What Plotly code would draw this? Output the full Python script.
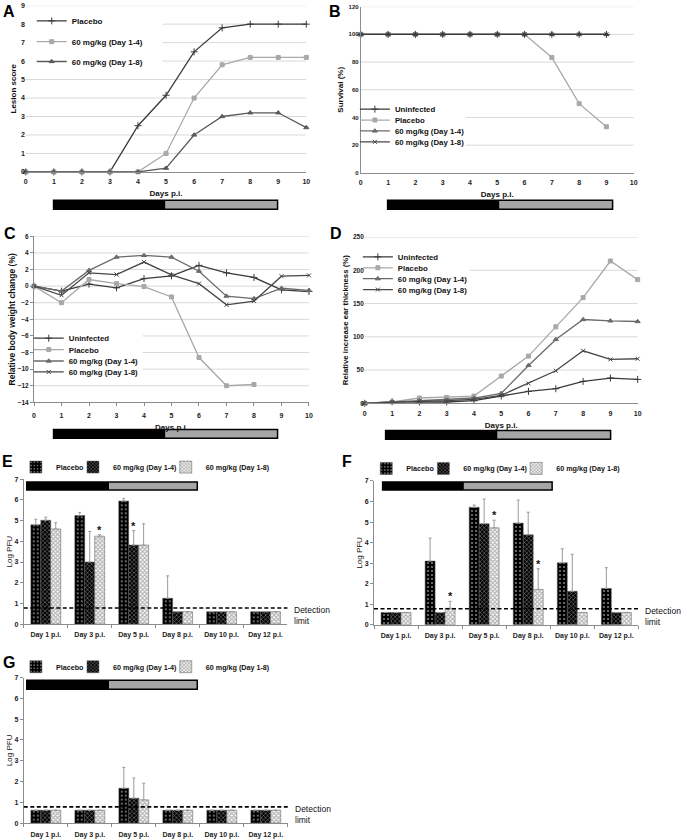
import plotly.graph_objects as go

W, H = 684, 840
FONT = "Liberation Sans"

# ---------------- data ----------------
days = [0, 1, 2, 3, 4, 5, 6, 7, 8, 9, 10]
days_survival = [0, 1, 2, 3, 4, 5, 6, 7, 8, 9]
days_placebo_weight = [0, 1, 2, 3, 4, 5, 6, 7, 8]

# A: lesion score
lesion_placebo = [0, 0, 0, 0, 2.5, 4.15, 6.5, 7.8, 8.0, 8.0, 8.0]
lesion_d14 = [0, 0, 0, 0, 0, 1.0, 4.0, 5.8, 6.2, 6.2, 6.2]
lesion_d18 = [0, 0, 0, 0, 0, 0.2, 2.0, 3.0, 3.2, 3.2, 2.4]

# B: survival (%)
surv_uninf = [100, 100, 100, 100, 100, 100, 100, 100, 100, 100]
surv_placebo = [100, 100, 100, 100, 100, 100, 100, 83.3, 50, 33.3]
surv_d14 = [100, 100, 100, 100, 100, 100, 100, 100, 100, 100]
surv_d18 = [100, 100, 100, 100, 100, 100, 100, 100, 100, 100]

# C: relative body weight change (%)
bw_uninf = [0, -0.6, 0.25, -0.2, 0.9, 1.25, 2.5, 1.6, 1.05, -0.45, -0.65]
bw_placebo = [0, -2.0, 0.8, 0.3, -0.05, -1.3, -8.6, -12.0, -11.85]
bw_d14 = [0, -0.6, 1.9, 3.5, 3.7, 3.5, 1.8, -1.2, -1.5, -0.25, -0.5]
bw_d18 = [0, -1.1, 1.6, 1.4, 2.9, 1.35, 0.3, -2.25, -1.8, 1.2, 1.3]

# D: relative increase ear thickness (%)
ear_uninf = [0, 2.5, 2, 2, 4, 11, 18, 22, 33, 38, 36]
ear_placebo = [0, 2, 8, 9, 11, 41, 71, 115, 159, 214, 186]
ear_d14 = [0, 2, 4, 5, 8, 15, 57, 96, 126, 124, 123]
ear_d18 = [0, 2, 3, 4, 6, 12, 30, 49, 79, 66, 67]

# E-G: Log PFU (bar value and top of error bar)
categories = ["Day 1 p.i.", "Day 3 p.i.", "Day 5 p.i.", "Day 8 p.i.", "Day 10 p.i.", "Day 12 p.i."]

e_placebo = [4.8, 5.25, 5.95, 1.25, 0.6, 0.6]
e_placebo_top = [5.07, 5.4, 6.08, 2.33, None, None]
e_d14 = [5.02, 3.0, 3.82, 0.6, 0.6, 0.6]
e_d14_top = [5.17, 4.48, 4.52, None, None, None]
e_d18 = [4.6, 4.25, 3.82, 0.6, 0.6, 0.6]
e_d18_top = [4.9, 4.32, 4.85, None, None, None]
e_stars = [(1, 2), (2, 1)]

f_placebo = [0.6, 3.1, 5.72, 4.95, 3.02, 1.77]
f_placebo_top = [None, 4.22, 5.83, 6.07, 3.7, 2.78]
f_d14 = [0.6, 0.6, 4.92, 4.38, 1.63, 0.6]
f_d14_top = [None, None, 6.12, 5.48, 3.43, None]
f_d18 = [0.6, 0.8, 4.72, 1.72, 0.6, 0.6]
f_d18_top = [None, 1.14, 5.09, 2.73, None, None]
f_stars = [(1, 2), (2, 2), (3, 2)]

g_placebo = [0.62, 0.62, 1.68, 0.62, 0.62, 0.62]
g_placebo_top = [None, None, 2.68, None, None, None]
g_d14 = [0.62, 0.62, 1.2, 0.62, 0.62, 0.62]
g_d14_top = [None, None, 2.17, None, None, None]
g_d18 = [0.62, 0.62, 1.12, 0.62, 0.62, 0.62]
g_d18_top = [None, None, 1.92, None, None, None]
g_stars = []

detection_limit = 0.78

# ---------------- layout geometry (pixels) ----------------
# left, right, top, bottom of each plot area
panels = {
    "A": (24, 307, 1.7, 169.3),
    "B": (362, 637.3, 2.7, 170.3),
    "C": (32.3, 309.7, 234.3, 401.7),
    "D": (366, 641.3, 235, 402.7),
    "E": (22, 288, 479.3, 625.3),
    "F": (375.3, 642, 481, 626),
    "G": (22, 288.3, 679.3, 826),
}
axis_id = {"A": "", "B": "2", "C": "3", "D": "4", "E": "5", "F": "6", "G": "7"}


def dom(p):
    l, r, t, b = panels[p]
    return [l / W, r / W], [1 - b / H, 1 - t / H]


fig = go.Figure()
legends = {}
leg_counter = [0]


def new_legend(x_px, y_px, size, weight="bold"):
    leg_counter[0] += 1
    key = "legend" if leg_counter[0] == 1 else "legend%d" % leg_counter[0]
    legends[key] = dict(
        x=x_px / W, y=1 - y_px / H, xanchor="left", yanchor="middle",
        bgcolor="rgba(0,0,0,0)", borderwidth=0, tracegroupgap=0,
        font=dict(family=FONT, size=size, color="#111111", weight=weight),
        itemclick=False, itemdoubleclick=False,
    )
    return key


DARK = "#3a3a3a"
MID = "#6a6a6a"
LIGHT = "#a8a8a8"
DARK2 = "#474747"


def line(x, y, name, color, symbol, p, leg_xy, msize=4, fsize=7.8):
    a = axis_id[p]
    leg = new_legend(leg_xy[0], leg_xy[1], fsize)
    fig.add_trace(go.Scatter(
        x=x, y=y, mode="lines+markers", name=name,
        line=dict(color=color, width=1.3),
        marker=dict(symbol=symbol, size=msize, color=color, line=dict(color=color, width=1)),
        xaxis="x" + a, yaxis="y" + a, legend=leg, showlegend=True,
        cliponaxis=False,
    ))


# A
ax = 30
line(days, lesion_placebo, "Placebo", DARK, "cross-thin", "A", (ax, 17), 5, 8)
line(days, lesion_d14, "60 mg/kg (Day 1-4)", LIGHT, "square", "A", (ax, 38), 4, 8)
line(days, lesion_d18, "60 mg/kg (Day 1-8)", "#5a5a5a", "triangle-up", "A", (ax, 58), 4.5, 8)

# B (placebo drawn first so the dark 100% line sits on top)
bx = 356
line(days_survival, surv_placebo, "Placebo", LIGHT, "square", "B", (bx, 117), 4)
line(days_survival, surv_d14, "60 mg/kg (Day 1-4)", MID, "triangle-up", "B", (bx, 128), 4.5)
line(days_survival, surv_d18, "60 mg/kg (Day 1-8)", DARK2, "x-thin", "B", (bx, 139), 4)
line(days_survival, surv_uninf, "Uninfected", DARK, "cross-thin", "B", (bx, 106), 5)

# C
cx = 27
line(days, bw_uninf, "Uninfected", DARK, "cross-thin", "C", (cx, 337), 5)
line(days_placebo_weight, bw_placebo, "Placebo", LIGHT, "square", "C", (cx, 348.5), 4)
line(days, bw_d14, "60 mg/kg (Day 1-4)", MID, "triangle-up", "C", (cx, 360), 4.5)
line(days, bw_d18, "60 mg/kg (Day 1-8)", DARK2, "x-thin", "C", (cx, 371), 4)

# D
dx = 359
line(days, ear_uninf, "Uninfected", DARK, "cross-thin", "D", (dx, 255), 5)
line(days, ear_placebo, "Placebo", LIGHT, "square", "D", (dx, 266), 4)
line(days, ear_d14, "60 mg/kg (Day 1-4)", MID, "triangle-up", "D", (dx, 277), 4.5)
line(days, ear_d18, "60 mg/kg (Day 1-8)", DARK2, "x-thin", "D", (dx, 288), 4)

# ---------------- bars ----------------
BARGAP = 0.32
bar_styles = [
    dict(name="Placebo", color="#000000",
         pattern=dict(shape=".", fgcolor="#ffffff", bgcolor="#000000", size=4, solidity=0.22)),
    dict(name="60 mg/kg (Day 1-4)", color="#000000",
         pattern=dict(shape="x", fgcolor="#ffffff", bgcolor="#000000", size=3, solidity=0.35)),
    dict(name="60 mg/kg (Day 1-8)", color="#ffffff",
         pattern=dict(shape="x", fgcolor="#6e6e6e", bgcolor="#ffffff", size=3, solidity=0.65)),
]


def bars(p, series, tops, leg_x, leg_y):
    a = axis_id[p]
    for i, (vals, top) in enumerate(zip(series, tops)):
        st = bar_styles[i]
        err = [None if t is None else t - v for v, t in zip(vals, top)]
        leg = new_legend(leg_x[i], leg_y, 7.2)
        fig.add_trace(go.Bar(
            x=categories, y=vals, name=st["name"],
            marker=dict(color=st["color"], pattern=st["pattern"],
                        line=dict(color="#555555", width=0.5)),
            error_y=dict(type="data", array=err, arrayminus=[0] * len(err), symmetric=False,
                         color="#9a9a9a", thickness=1, width=1.5),
            xaxis="x" + a, yaxis="y" + a, legend=leg, showlegend=True,
        ))


leg_x_e = [14, 71.6, 165.2]
bars("E", [e_placebo, e_d14, e_d18], [e_placebo_top, e_d14_top, e_d18_top], leg_x_e, 467)
bars("F", [f_placebo, f_d14, f_d18], [f_placebo_top, f_d14_top, f_d18_top],
     [v + 353.5 for v in leg_x_e], 468.3)
bars("G", [g_placebo, g_d14, g_d18], [g_placebo_top, g_d14_top, g_d18_top], leg_x_e, 668.3)

# ---------------- axes ----------------
GRID = "#d9d9d9"
AXL = "#8c8c8c"
layout = dict(
    width=W, height=H, margin=dict(l=0, r=0, t=0, b=0),
    paper_bgcolor="white", plot_bgcolor="rgba(0,0,0,0)",
    barmode="group", bargap=BARGAP, bargroupgap=0,
    font=dict(family=FONT, color="#111111"),
    showlegend=True,
)


def tickf(size=6.5):
    return dict(family=FONT, size=size, color="#222222", weight="bold")


def title(text, size=8, standoff=3, weight="bold"):
    return dict(text=text, font=dict(family=FONT, size=size, color="#111111", weight=weight),
                standoff=standoff)


line_panels = {
    "A": dict(yr=[0, 9], dt=1, ytitle="Lesion score", ysize=8, yline=False, ticks="", tf=7, so=3),
    "B": dict(yr=[0, 120], dt=20, ytitle="Survival (%)", ysize=8, yline=True, ticks="", tf=6, so=3),
    "C": dict(yr=[-14, 6], dt=2, ytitle="Relative body weight change (%)", ysize=8.5,
              yline=True, ticks="outside", tf=6.5, so=0),
    "D": dict(yr=[0, 250], dt=50, ytitle="Relative increase ear thickness (%)", ysize=7.8,
              yline=False, ticks="", tf=6.5, so=3),
}
shapes = []
for p, cfg in line_panels.items():
    a = axis_id[p]
    xd, yd = dom(p)
    layout["xaxis" + a] = dict(
        domain=xd, anchor="y" + a, range=[0, 10], dtick=1, showgrid=False, zeroline=False,
        showline=True, linecolor=AXL, linewidth=1, ticks=cfg["ticks"], ticklen=3, tickcolor=AXL,
        tickfont=tickf(7), ticklabelstandoff=3, title=title("Days p.i.", 8, 6), fixedrange=True,
    )
    layout["yaxis" + a] = dict(
        domain=yd, anchor="x" + a, range=cfg["yr"], dtick=cfg["dt"], showgrid=False,
        zeroline=False, showline=cfg["yline"], linecolor=AXL,
        ticks=cfg["ticks"], ticklen=3, tickcolor=AXL, tickfont=tickf(cfg["tf"]),
        title=title(cfg["ytitle"], cfg["ysize"], cfg["so"]), fixedrange=True,
    )
    # horizontal gridlines at every tick above the bottom of the range
    lo, hi = cfg["yr"]
    v = lo + cfg["dt"]
    while v <= hi + 1e-9:
        shapes.append(dict(type="line", layer="below", xref="x%s domain" % a, yref="y" + a,
                           x0=0, x1=1, y0=v, y1=v, line=dict(color=GRID, width=1)))
        v += cfg["dt"]

for p in ["E", "F", "G"]:
    a = axis_id[p]
    xd, yd = dom(p)
    layout["xaxis" + a] = dict(
        domain=xd, anchor="y" + a, type="category", showgrid=False, zeroline=False,
        showline=True, linecolor=AXL, linewidth=1, ticks="outside", tickson="boundaries",
        ticklen=3, tickcolor=AXL, tickfont=tickf(7), tickangle=0, ticklabelstandoff=4,
        fixedrange=True,
    )
    layout["yaxis" + a] = dict(
        domain=yd, anchor="x" + a, range=[0, 7], dtick=1, showgrid=False, zeroline=False,
        showline=True, linecolor=AXL, ticks="outside", ticklen=3, tickcolor=AXL,
        tickfont=tickf(7), title=title("Log PFU", 8, 0, "normal"), fixedrange=True,
    )

layout.update(legends)

# ---------------- decorations ----------------
annotations = []

# white boxes behind the line-chart legends (hide gridlines, stay under traces)
legend_boxes = {
    "A": (24, 162, 6, 67),
    "B": (362, 468, 96, 150),
    "C": (32.3, 142, 329, 378),
    "D": (366, 472, 247, 296),
}
for p, (x0, x1, y0, y1) in legend_boxes.items():
    l, r, t, b = panels[p]
    a = axis_id[p]
    shapes.append(dict(
        type="rect", layer="below", xref="x%s domain" % a, yref="y%s domain" % a,
        x0=(x0 - l) / (r - l), x1=(x1 - l) / (r - l),
        y0=(b - y1) / (b - t), y1=(b - y0) / (b - t),
        fillcolor="white", line=dict(width=0),
    ))

# treatment timeline bars: (start, switch, end, top, bottom) in pixels
timelines = {
    "A": (52, 165, 278, 198, 207),
    "B": (389, 502, 616, 198, 207),
    "C": (52, 165, 278, 429, 438),
    "D": (387, 500, 614, 430, 439),
    "E": (25, 108, 197, 482, 490),
    "F": (384, 466, 555, 482, 490),
    "G": (25, 108, 197, 682, 691),
}
for p, (x0, xm, x1, y0, y1) in timelines.items():
    Y0, Y1 = 1 - y1 / H, 1 - y0 / H
    shapes.append(dict(type="rect", xref="paper", yref="paper", x0=x0 / W, x1=xm / W,
                       y0=Y0, y1=Y1, fillcolor="#000000", line=dict(width=0)))
    shapes.append(dict(type="rect", xref="paper", yref="paper", x0=xm / W, x1=x1 / W,
                       y0=Y0, y1=Y1, fillcolor="#a6a6a6", line=dict(width=0)))
    shapes.append(dict(type="rect", xref="paper", yref="paper", x0=x0 / W, x1=x1 / W,
                       y0=Y0, y1=Y1, fillcolor="rgba(0,0,0,0)",
                       line=dict(color="#000000", width=1.5)))

# detection limit lines + labels, significance stars
star_sets = {"E": (e_stars, [e_placebo_top, e_d14_top, e_d18_top], [e_placebo, e_d14, e_d18]),
             "F": (f_stars, [f_placebo_top, f_d14_top, f_d18_top], [f_placebo, f_d14, f_d18]),
             "G": (g_stars, [g_placebo_top, g_d14_top, g_d18_top], [g_placebo, g_d14, g_d18])}
for p in ["E", "F", "G"]:
    a = axis_id[p]
    l, r, t, b = panels[p]
    shapes.append(dict(type="line", xref="x%s domain" % a, yref="y" + a, x0=0, x1=1,
                       y0=detection_limit, y1=detection_limit,
                       line=dict(color="#000000", width=1.6, dash="4px,2.5px")))
    annotations.append(dict(xref="x%s domain" % a, yref="y" + a, x=1, y=detection_limit,
                            xanchor="left", yanchor="top", xshift=5, yshift=5,
                            text="Detection<br>limit", showarrow=False, align="left",
                            font=dict(family=FONT, size=8.5, color="#111111")))
    stars, tops, vals = star_sets[p]
    cat_w = (r - l) / len(categories)
    bar_w = cat_w * (1 - BARGAP) / 3
    for ci, si in stars:
        ytop = tops[si][ci] if tops[si][ci] is not None else vals[si][ci]
        annotations.append(dict(xref="x" + a, yref="y" + a, x=categories[ci], y=ytop,
                                xshift=(si - 1) * bar_w, yshift=-3, xanchor="center",
                                yanchor="bottom", text="*", showarrow=False,
                                font=dict(family=FONT, size=11, color="#111111", weight="bold")))

# panel letters
letters = {"A": (7, 8), "B": (336, 8), "C": (8, 231), "D": (337, 231),
           "E": (6, 461), "F": (348, 461), "G": (7, 664)}
for k, (x, y) in letters.items():
    annotations.append(dict(xref="paper", yref="paper", x=x / W, y=1 - y / H, text=k,
                            showarrow=False, xanchor="center", yanchor="middle",
                            font=dict(family=FONT, size=16, color="#000000", weight="bold")))

layout["shapes"] = shapes
layout["annotations"] = annotations
fig.update_layout(**layout)

fig.write_html("out.html", config={"displayModeBar": False},
               post_script="document.body.style.margin='0';")
